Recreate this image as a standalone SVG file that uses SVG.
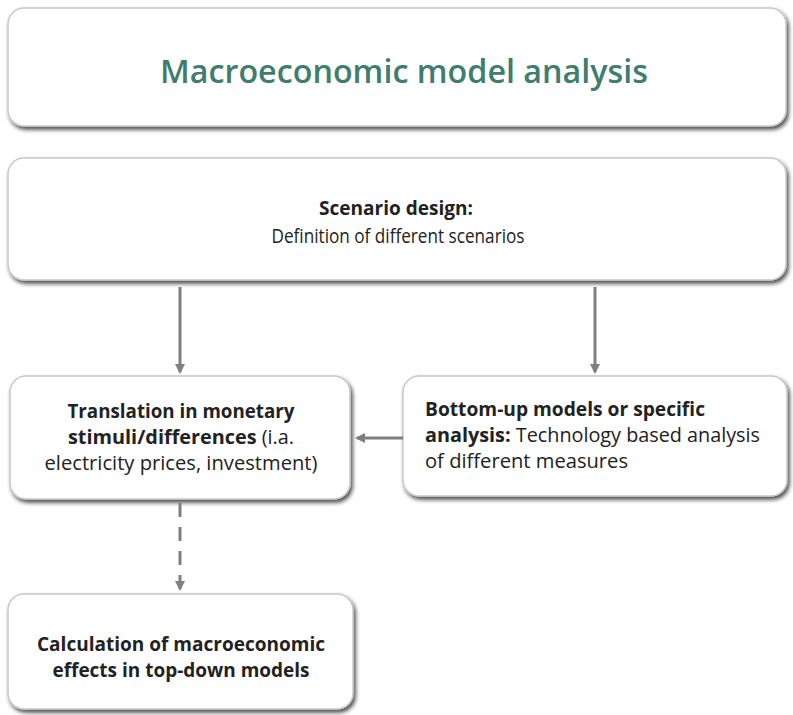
<svg xmlns="http://www.w3.org/2000/svg" width="793" height="715" viewBox="0 0 793 715">
<defs>
<filter id="sh" x="-5%" y="-10%" width="110%" height="125%">
<feGaussianBlur in="SourceAlpha" stdDeviation="2"/>
<feOffset dx="2" dy="3" result="b"/>
<feComponentTransfer><feFuncA type="linear" slope="0.7"/></feComponentTransfer>
<feMerge><feMergeNode/><feMergeNode in="SourceGraphic"/></feMerge>
</filter>
<marker id="ah" markerWidth="10" markerHeight="10" refX="8" refY="5" orient="auto" markerUnits="userSpaceOnUse">
<path d="M0,0 L10,5 L0,10 Z" fill="#7f7f7f"/>
</marker>
</defs>
<style>
.box{fill:#ffffff;stroke:#c8c8c8;stroke-width:1.5;filter:url(#sh)}
.t{font-family:"Open Sans","Liberation Sans",sans-serif;fill:#222222;font-size:20px}
.b{font-weight:bold}
.c{text-anchor:middle}
.ln{stroke:#7f7f7f;stroke-width:3;fill:none;marker-end:url(#ah)}
</style>
<rect width="793" height="715" fill="#ffffff"/>
<g id="title">
<rect class="box" x="8" y="8" width="778" height="118" rx="16"/>
<text x="404" y="83" class="c" style="font-family:'Open Sans','Liberation Sans',sans-serif;font-size:33px;font-weight:600;fill:#3f7d6e" textLength="488" lengthAdjust="spacingAndGlyphs">Macroeconomic model analysis</text>
</g>
<g id="scenario">
<rect class="box" x="8" y="158" width="778" height="122" rx="16"/>
<text x="396" y="215" class="t b c" textLength="154" lengthAdjust="spacingAndGlyphs">Scenario design:</text>
<text x="398" y="243" class="t c" textLength="253" lengthAdjust="spacingAndGlyphs">Definition of different scenarios</text>
</g>
<g id="translation">
<rect class="box" x="10" y="376" width="340" height="123" rx="16"/>
<text x="181" y="418" class="t b c" textLength="227" lengthAdjust="spacingAndGlyphs">Translation in monetary</text>
<text x="181" y="444" class="t c" textLength="226" lengthAdjust="spacingAndGlyphs"><tspan class="b">stimuli/differences</tspan> (i.a.</text>
<text x="181" y="470" class="t c" textLength="273" lengthAdjust="spacingAndGlyphs">electricity prices, investment)</text>
</g>
<g id="bottomup">
<rect class="box" x="403" y="376" width="384" height="120" rx="16"/>
<text x="425" y="416" class="t b" textLength="280" lengthAdjust="spacingAndGlyphs">Bottom-up models or specific</text>
<text x="425" y="442" class="t" textLength="335" lengthAdjust="spacingAndGlyphs"><tspan class="b">analysis:</tspan> Technology based analysis</text>
<text x="425" y="468" class="t" textLength="203" lengthAdjust="spacingAndGlyphs">of different measures</text>
</g>
<g id="calculation">
<rect class="box" x="8" y="594" width="345" height="115" rx="16"/>
<text x="181" y="651" class="t b c" textLength="288" lengthAdjust="spacingAndGlyphs">Calculation of macroeconomic</text>
<text x="181" y="677" class="t b c" textLength="257" lengthAdjust="spacingAndGlyphs">effects in top-down models</text>
</g>
<g id="connectors">
<line class="ln" x1="180" y1="287" x2="180" y2="372"/>
<line class="ln" x1="595" y1="287" x2="595" y2="372"/>
<line class="ln" x1="403" y1="438" x2="357" y2="438"/>
<line class="ln" x1="180" y1="503" x2="180" y2="589" stroke-dasharray="14,10"/>
</g>
</svg>
